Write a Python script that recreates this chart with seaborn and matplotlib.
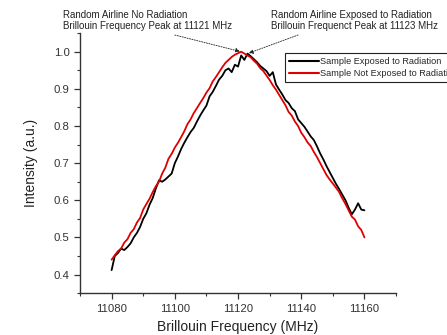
import matplotlib
matplotlib.use("Agg")
import matplotlib.pyplot as plt
from matplotlib.ticker import MultipleLocator
import numpy as np
import pandas as pd
import seaborn as sns

# Brillouin frequency axis (MHz)
freq = list(range(11080, 11161))

# Normalised Brillouin gain spectra
exposed = [
    0.412, 0.450, 0.458, 0.470, 0.466, 0.474, 0.484, 0.500, 0.512, 0.528,
    0.550, 0.565, 0.588, 0.606, 0.632, 0.654, 0.650, 0.656, 0.664, 0.672,
    0.700, 0.718, 0.738, 0.755, 0.770, 0.784, 0.795, 0.812, 0.828, 0.842,
    0.855, 0.880, 0.892, 0.908, 0.925, 0.935, 0.950, 0.955, 0.945, 0.965,
    0.960, 0.990, 0.978, 0.995, 0.988, 0.980, 0.972, 0.962, 0.955, 0.948,
    0.935, 0.945, 0.912, 0.898, 0.885, 0.870, 0.862, 0.848, 0.840, 0.818,
    0.808, 0.798, 0.785, 0.772, 0.762, 0.745, 0.726, 0.710, 0.692, 0.676,
    0.660, 0.644, 0.630, 0.615, 0.600, 0.580, 0.562, 0.575, 0.592, 0.575,
    0.573,
]
not_exposed = [
    0.440, 0.452, 0.463, 0.470, 0.486, 0.495, 0.512, 0.522, 0.540, 0.552,
    0.575, 0.590, 0.604, 0.622, 0.638, 0.650, 0.672, 0.688, 0.712, 0.725,
    0.742, 0.755, 0.770, 0.786, 0.805, 0.818, 0.835, 0.848, 0.862, 0.875,
    0.890, 0.902, 0.920, 0.932, 0.945, 0.958, 0.970, 0.978, 0.986, 0.992,
    0.996, 1.000, 0.995, 0.990, 0.985, 0.976, 0.968, 0.956, 0.948, 0.936,
    0.924, 0.910, 0.898, 0.884, 0.870, 0.856, 0.838, 0.828, 0.812, 0.800,
    0.782, 0.770, 0.756, 0.746, 0.730, 0.716, 0.700, 0.684, 0.668, 0.656,
    0.645, 0.634, 0.622, 0.605, 0.590, 0.573, 0.556, 0.548, 0.530, 0.520,
    0.500,
]

series_names = ["Sample Exposed to Radiation", "Sample Not Exposed to Radiation"]
series_colors = ["#000000", "#e00000"]

peak_no_rad = (11121, 1.000)
peak_rad = (11123, 0.995)
note_no_rad = "Random Airline No Radiation\nBrillouin Frequency Peak at 11121 MHz"
note_rad = "Random Airline Exposed to Radiation\nBrillouin Frequenct Peak at 11123 MHz"

df = pd.concat([
    pd.DataFrame({"freq": freq, "intensity": exposed, "series": series_names[0]}),
    pd.DataFrame({"freq": freq, "intensity": not_exposed, "series": series_names[1]}),
])

sns.set_style("ticks")
plt.rcParams["font.family"] = ["Liberation Sans", "DejaVu Sans"]

fig = plt.figure(figsize=(4.47, 3.35), dpi=100)
ax = fig.add_axes([0.179, 0.125, 0.707, 0.776])

sns.lineplot(data=df, x="freq", y="intensity", hue="series",
             palette=dict(zip(series_names, series_colors)),
             linewidth=1.3, ax=ax, sort=False, estimator=None)

ax.set_xlim(11070, 11170)
ax.set_ylim(0.35, 1.05)
ax.xaxis.set_major_locator(MultipleLocator(20))
ax.xaxis.set_minor_locator(MultipleLocator(10))
ax.yaxis.set_major_locator(MultipleLocator(0.1))
ax.yaxis.set_minor_locator(MultipleLocator(0.05))
ax.set_xticks([11080, 11100, 11120, 11140, 11160])
ax.tick_params(which="major", direction="out", length=4, width=0.9,
               labelsize=8.2, colors="#333333")
ax.tick_params(which="minor", direction="out", length=2.5, width=0.8,
               colors="#333333")
for side in ("top", "right"):
    ax.spines[side].set_visible(False)
for side in ("left", "bottom"):
    ax.spines[side].set_linewidth(1.0)
    ax.spines[side].set_color("#333333")

ax.set_xlabel("Brillouin Frequency (MHz)", fontsize=10, color="#222222", labelpad=5)
ax.set_ylabel("Intensity (a.u.)", fontsize=10, color="#222222", labelpad=11)

leg = ax.legend(loc="upper left", bbox_to_anchor=(0.638, 0.842),
                bbox_transform=fig.transFigure, fontsize=6.6, frameon=True,
                fancybox=False, framealpha=1, edgecolor="#222222",
                handlelength=3.2, handletextpad=0.15, labelspacing=0.3,
                borderpad=0.45, borderaxespad=0)
leg.get_frame().set_linewidth(0.8)
for line in leg.get_lines():
    line.set_linewidth(1.5)

arrow_style = dict(arrowstyle="-|>", linestyle=(0, (1.5, 1.5)), lw=0.6,
                   color="#222222", mutation_scale=6, shrinkA=0, shrinkB=1)
ax.annotate(note_no_rad, xy=peak_no_rad, xycoords="data",
            xytext=(0.141, 0.908), textcoords="figure fraction",
            fontsize=7, color="#222222", ha="left", va="bottom",
            linespacing=1.15)
ax.annotate("", xy=peak_no_rad, xycoords="data",
            xytext=(11100, 1.045), textcoords="data",
            arrowprops=arrow_style, annotation_clip=False)
ax.annotate(note_rad, xy=peak_rad, xycoords="data",
            xytext=(0.607, 0.908), textcoords="figure fraction",
            fontsize=7, color="#222222", ha="left", va="bottom",
            linespacing=1.15)
ax.annotate("", xy=peak_rad, xycoords="data",
            xytext=(11139, 1.045), textcoords="data",
            arrowprops=arrow_style, annotation_clip=False)

fig.savefig("out.png", dpi=100)
